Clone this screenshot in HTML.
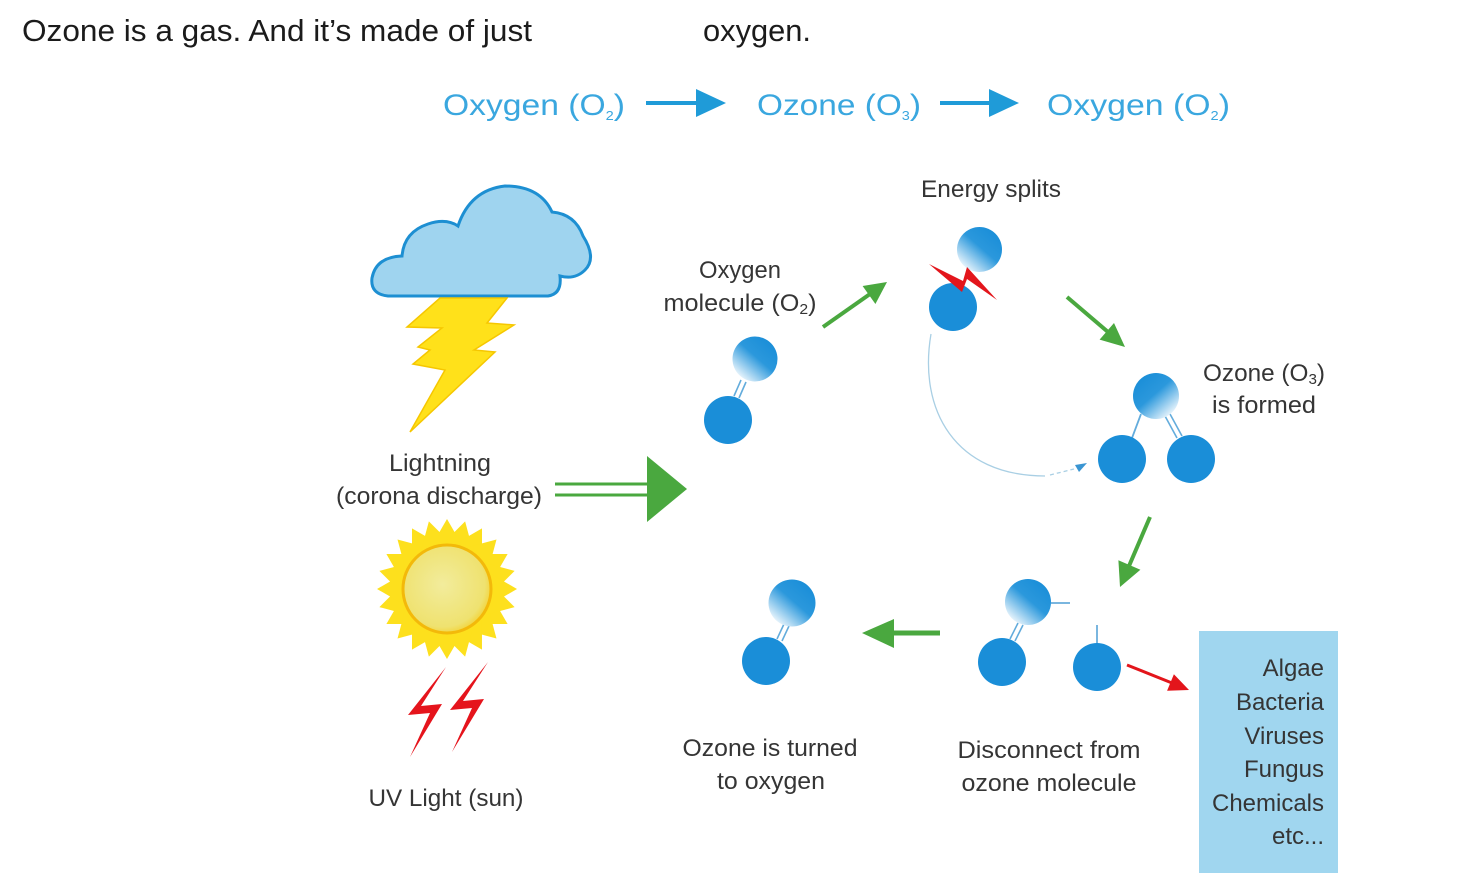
<!DOCTYPE html>
<html><head><meta charset="utf-8"><style>
html,body{margin:0;padding:0;background:#fff;width:1461px;height:889px;overflow:hidden}
svg{position:absolute;left:0;top:0}
.t{font-family:"Liberation Sans",sans-serif;fill:#353535;font-size:24px}
</style></head><body>
<svg width="1461" height="889" viewBox="0 0 1461 889" xmlns="http://www.w3.org/2000/svg">
<defs>
<linearGradient id="gbl" x1="0.85" y1="0.1" x2="0.15" y2="0.9">
<stop offset="0" stop-color="#1a8ed8"/><stop offset="0.45" stop-color="#2b98dc"/><stop offset="1" stop-color="#eef7fd"/>
</linearGradient>
<linearGradient id="gbr" x1="0.15" y1="0.1" x2="0.85" y2="0.9">
<stop offset="0" stop-color="#1a8ed8"/><stop offset="0.45" stop-color="#2b98dc"/><stop offset="1" stop-color="#eef7fd"/>
</linearGradient>
<radialGradient id="sunc" cx="0.45" cy="0.45" r="0.6">
<stop offset="0" stop-color="#f2ec9c"/><stop offset="0.8" stop-color="#efe270"/><stop offset="1" stop-color="#f3cf2a"/>
</radialGradient>
</defs>

<!-- top line -->
<text x="22" y="41" font-family="Liberation Sans, sans-serif" font-size="31" fill="#1b1b1b" textLength="510" lengthAdjust="spacingAndGlyphs">Ozone is a gas. And it’s made of just</text>
<text x="703" y="41" font-family="Liberation Sans, sans-serif" font-size="31" fill="#1b1b1b" textLength="108" lengthAdjust="spacingAndGlyphs">oxygen.</text>

<!-- header -->
<g font-family="Liberation Sans, sans-serif" font-size="30" fill="#3aa7df">
<text x="443" y="115" textLength="182" lengthAdjust="spacingAndGlyphs">Oxygen (O<tspan font-size="13" dy="5">2</tspan><tspan dy="-5">)</tspan></text>
<text x="757" y="115" textLength="164" lengthAdjust="spacingAndGlyphs">Ozone (O<tspan font-size="13" dy="5">3</tspan><tspan dy="-5">)</tspan></text>
<text x="1047" y="115" textLength="183" lengthAdjust="spacingAndGlyphs">Oxygen (O<tspan font-size="13" dy="5">2</tspan><tspan dy="-5">)</tspan></text>
</g>
<line x1="646" y1="103" x2="700" y2="103" stroke="#1f9bd8" stroke-width="4"/>
<polygon points="696,89 726,103 696,117" fill="#1f9bd8"/>
<line x1="940" y1="103" x2="993" y2="103" stroke="#1f9bd8" stroke-width="4"/>
<polygon points="989,89 1019,103 989,117" fill="#1f9bd8"/>

<!-- cloud -->
<path d="M388 296 Q370 294 372 278 Q376 257 402 256 Q404 232 428 224 Q446 218 458 226 Q470 190 505 186 Q540 186 552 212 Q575 214 583 236 Q597 258 585 270 Q575 280 560 276 Q562 294 548 296 Z" fill="#9fd4ef" stroke="#1d8fd2" stroke-width="3"/>
<!-- lightning -->
<polygon points="440,298 507,298 487,323 514,325 474,350 495,352 410,432 445,370 413,364 430,350 418,347 442,328 407,327" fill="#ffe11a" stroke="#f6c700" stroke-width="1.5"/>

<text class="t" x="440" y="471" text-anchor="middle" textLength="102" lengthAdjust="spacingAndGlyphs">Lightning</text>
<text class="t" x="439" y="504" text-anchor="middle" textLength="206" lengthAdjust="spacingAndGlyphs">(corona discharge)</text>

<!-- big green arrow -->
<line x1="555" y1="484" x2="650" y2="484" stroke="#4aa83f" stroke-width="3"/>
<line x1="555" y1="495" x2="650" y2="495" stroke="#4aa83f" stroke-width="3"/>
<polygon points="647,456 687,489 647,522" fill="#4aa83f"/>

<!-- sun -->
<g transform="translate(447,589)" fill="#fde01d">
<polygon points="0,-70 60.6,35 -60.6,35"/>
<polygon points="0,-70 60.6,35 -60.6,35" transform="rotate(15)"/>
<polygon points="0,-70 60.6,35 -60.6,35" transform="rotate(30)"/>
<polygon points="0,-70 60.6,35 -60.6,35" transform="rotate(45)"/>
<polygon points="0,-70 60.6,35 -60.6,35" transform="rotate(60)"/>
<polygon points="0,-70 60.6,35 -60.6,35" transform="rotate(75)"/>
<polygon points="0,-70 60.6,35 -60.6,35" transform="rotate(90)"/>
<polygon points="0,-70 60.6,35 -60.6,35" transform="rotate(105)"/>
<circle r="44" fill="url(#sunc)" stroke="#f3b90a" stroke-width="3"/>
</g>
<!-- UV bolts -->
<polygon points="446,667 408,715 430,713 410,757 442,704 421,706" fill="#e5141c"/>
<polygon points="488,662 450,710 472,708 452,752 484,699 463,701" fill="#e5141c"/>
<text class="t" x="446" y="806" text-anchor="middle" textLength="155" lengthAdjust="spacingAndGlyphs">UV Light (sun)</text>

<!-- O2 molecule -->
<text class="t" x="740" y="278" text-anchor="middle" textLength="82" lengthAdjust="spacingAndGlyphs">Oxygen</text>
<text class="t" x="740" y="311" text-anchor="middle" textLength="153" lengthAdjust="spacingAndGlyphs">molecule (O<tspan font-size="15" dy="3">2</tspan><tspan dy="-3">)</tspan></text>
<line x1="746" y1="382" x2="739" y2="398" stroke="#63acdc" stroke-width="1.6"/>
<line x1="741" y1="380" x2="734" y2="396" stroke="#63acdc" stroke-width="1.6"/>
<circle cx="755" cy="359" r="22.5" fill="url(#gbl)"/>
<circle cx="728" cy="420" r="24" fill="#1a8ed8"/>

<!-- arrow up-right -->
<line x1="823" y1="327" x2="870" y2="294" stroke="#4aa83f" stroke-width="4"/>
<polygon points="887,282 875.4,304 862.6,286" fill="#4aa83f"/>

<!-- energy splits -->
<text class="t" x="991" y="197" text-anchor="middle" textLength="140" lengthAdjust="spacingAndGlyphs">Energy splits</text>
<circle cx="979.5" cy="249.5" r="22.5" fill="url(#gbl)"/>
<circle cx="953" cy="307" r="24" fill="#1a8ed8"/>
<polygon points="929,264 963,281 967,267 997,300 967,279 962,292" fill="#e3161c"/>

<!-- faint curve -->
<path d="M931 334 C918 410 955 476 1045 476" fill="none" stroke="#a9cfe4" stroke-width="1.3"/>
<path d="M1050 475 L1074 469" fill="none" stroke="#a9cfe4" stroke-width="1.3" stroke-dasharray="4 3"/>
<polygon points="1087,463 1075,465 1079,472" fill="#3a95d2"/>

<!-- arrow down-right -->
<line x1="1067" y1="297" x2="1108" y2="332" stroke="#4aa83f" stroke-width="4"/>
<polygon points="1125,347 1099.6,339.6 1114,323" fill="#4aa83f"/>

<!-- ozone -->
<text class="t" x="1264" y="381" text-anchor="middle" textLength="122" lengthAdjust="spacingAndGlyphs">Ozone (O<tspan font-size="15" dy="3">3</tspan><tspan dy="-3">)</tspan></text>
<text class="t" x="1264" y="413" text-anchor="middle" textLength="104" lengthAdjust="spacingAndGlyphs">is formed</text>
<line x1="1141" y1="414" x2="1132" y2="438" stroke="#63acdc" stroke-width="1.8"/>
<line x1="1165" y1="416" x2="1177" y2="438" stroke="#63acdc" stroke-width="1.6"/>
<line x1="1170" y1="414" x2="1182" y2="436" stroke="#63acdc" stroke-width="1.6"/>
<circle cx="1156" cy="396" r="23" fill="url(#gbr)"/>
<circle cx="1122" cy="459" r="24" fill="#1a8ed8"/>
<circle cx="1191" cy="459" r="24" fill="#1a8ed8"/>

<!-- arrow down-left -->
<line x1="1150" y1="517" x2="1129" y2="566" stroke="#4aa83f" stroke-width="4"/>
<polygon points="1120,587 1140.4,569.7 1118.4,560.3" fill="#4aa83f"/>

<!-- disconnect -->
<line x1="1023" y1="625" x2="1015" y2="641" stroke="#63acdc" stroke-width="1.6"/>
<line x1="1018" y1="623" x2="1010" y2="639" stroke="#63acdc" stroke-width="1.6"/>
<circle cx="1028" cy="602" r="23" fill="url(#gbl)"/>
<circle cx="1002" cy="662" r="24" fill="#1a8ed8"/>
<line x1="1051" y1="603" x2="1070" y2="603" stroke="#7ab6df" stroke-width="2"/>
<line x1="1097" y1="625" x2="1097" y2="644" stroke="#7ab6df" stroke-width="2"/>
<circle cx="1097" cy="667" r="24" fill="#1a8ed8"/>
<text class="t" x="1049" y="758" text-anchor="middle" textLength="183" lengthAdjust="spacingAndGlyphs">Disconnect from</text>
<text class="t" x="1049" y="791" text-anchor="middle" textLength="175" lengthAdjust="spacingAndGlyphs">ozone molecule</text>

<!-- red arrow -->
<line x1="1127" y1="665" x2="1172" y2="683" stroke="#e3151b" stroke-width="3"/>
<polygon points="1189,690 1167.1,690.8 1173.9,674.2" fill="#e3151b"/>

<!-- left arrow -->
<line x1="940" y1="633" x2="890" y2="633" stroke="#4aa83f" stroke-width="5"/>
<polygon points="862,633 894,619 894,648" fill="#4aa83f"/>

<!-- ozone turned -->
<line x1="789" y1="626" x2="782" y2="641" stroke="#63acdc" stroke-width="1.6"/>
<line x1="784" y1="624" x2="777" y2="639" stroke="#63acdc" stroke-width="1.6"/>
<circle cx="792" cy="603" r="23.5" fill="url(#gbl)"/>
<circle cx="766" cy="661" r="24" fill="#1a8ed8"/>
<text class="t" x="770" y="756" text-anchor="middle" textLength="175" lengthAdjust="spacingAndGlyphs">Ozone is turned</text>
<text class="t" x="771" y="789" text-anchor="middle" textLength="108" lengthAdjust="spacingAndGlyphs">to oxygen</text>

<!-- box -->
<rect x="1199" y="631" width="139" height="242" fill="#a0d6ef"/>
<g class="t" text-anchor="end">
<text class="t" x="1324" y="676" text-anchor="end">Algae</text>
<text class="t" x="1324" y="710" text-anchor="end">Bacteria</text>
<text class="t" x="1324" y="744" text-anchor="end">Viruses</text>
<text class="t" x="1324" y="777" text-anchor="end">Fungus</text>
<text class="t" x="1324" y="811" text-anchor="end" textLength="112" lengthAdjust="spacingAndGlyphs">Chemicals</text>
<text class="t" x="1324" y="844" text-anchor="end">etc...</text>
</g>
</svg>
</body></html>
